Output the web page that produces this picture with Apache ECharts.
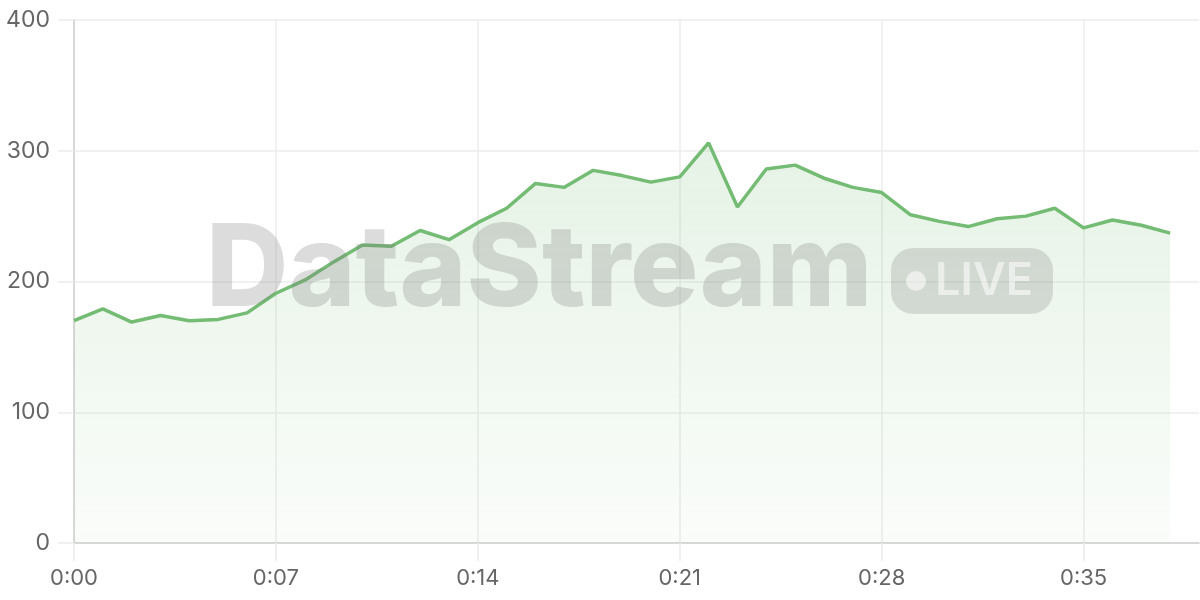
<!DOCTYPE html>
<html>
<head>
<meta charset="utf-8">
<script src="https://cdn.jsdelivr.net/npm/echarts@6/dist/echarts.min.js"></script>
<style>html,body{margin:0;padding:0;background:#fff;}#c{width:1200px;height:600px;}</style>
</head>
<body>
<div id="c"></div>
<script>
var categories = ['0:00','0:01','0:02','0:03','0:04','0:05','0:06','0:07','0:08','0:09',
  '0:10','0:11','0:12','0:13','0:14','0:15','0:16','0:17','0:18','0:19',
  '0:20','0:21','0:22','0:23','0:24','0:25','0:26','0:27','0:28','0:29',
  '0:30','0:31','0:32','0:33','0:34','0:35','0:36','0:37','0:38','0:39'];
var values = [170,179,169,174,170,171,176,191,201,215,
  228,227,239,232,245,256,275,272,285,281,
  276,280,306,257,286,289,279,272,268,251,
  246,242,248,250,256,241,247,243,237];
var yMin = 0, yMax = 400, yStep = 100;

var chart = echarts.init(document.getElementById('c'), null, {renderer: 'canvas'});
var labelFont = 'Inter, "Liberation Sans", Arial, sans-serif';
chart.setOption({
  animation: false,
  grid: {left: 74, right: 1, top: 20, bottom: 57, containLabel: false},
  xAxis: {
    type: 'category',
    data: categories,
    boundaryGap: false,
    axisLine: {lineStyle: {color: '#d0d0d0', width: 1.5}},
    axisTick: {show: true, interval: 6, length: 18, lineStyle: {color: '#ececec', width: 1.5}},
    axisLabel: {interval: 6, color: '#666', fontSize: 22, fontFamily: labelFont, margin: 24},
    splitLine: {show: true, interval: 6, lineStyle: {color: '#ececec', width: 1.5}}
  },
  yAxis: {
    type: 'value',
    min: yMin, max: yMax, interval: yStep,
    axisLine: {show: true, lineStyle: {color: '#d0d0d0', width: 1.5}},
    axisTick: {show: true, length: 16, lineStyle: {color: '#ececec', width: 1.5}},
    axisLabel: {color: '#666', fontSize: 23, fontFamily: labelFont, margin: 24},
    splitLine: {show: true, lineStyle: {color: '#ececec', width: 1.5}}
  },
  graphic: [
    {type: 'text', z: 100, x: 206, y: 272,
     style: {text: 'DataStream', fontSize: 114, fontWeight: 800, fontFamily: 'Inter, "Liberation Sans", Arial, sans-serif',
       fill: 'rgba(120,120,120,0.26)', verticalAlign: 'middle', align: 'left'}},
    {type: 'rect', z: 100, shape: {x: 891, y: 248, width: 162, height: 66, r: 22},
     style: {fill: 'rgba(120,120,120,0.24)'}},
    {type: 'circle', z: 101, shape: {cx: 916, cy: 281, r: 10},
     style: {fill: 'rgba(255,255,255,0.55)'}},
    {type: 'text', z: 101, x: 935, y: 281,
     style: {text: 'LIVE', fontSize: 45, fontWeight: 600, fontFamily: 'Inter, "Liberation Sans", Arial, sans-serif',
       fill: 'rgba(255,255,255,0.55)', verticalAlign: 'middle', align: 'left'}}
  ],
  series: [{
    type: 'line',
    data: values,
    showSymbol: false,
    symbol: 'none',
    lineStyle: {color: '#74bb74', width: 3.5},
    itemStyle: {color: '#74bb74'},
    areaStyle: {
      color: new echarts.graphic.LinearGradient(0, 0, 0, 1, [
        {offset: 0, color: 'rgba(116,187,116,0.26)'},
        {offset: 1, color: 'rgba(116,187,116,0.05)'}
      ])
    },
    z: 2
  }]
});
</script>
</body>
</html>
